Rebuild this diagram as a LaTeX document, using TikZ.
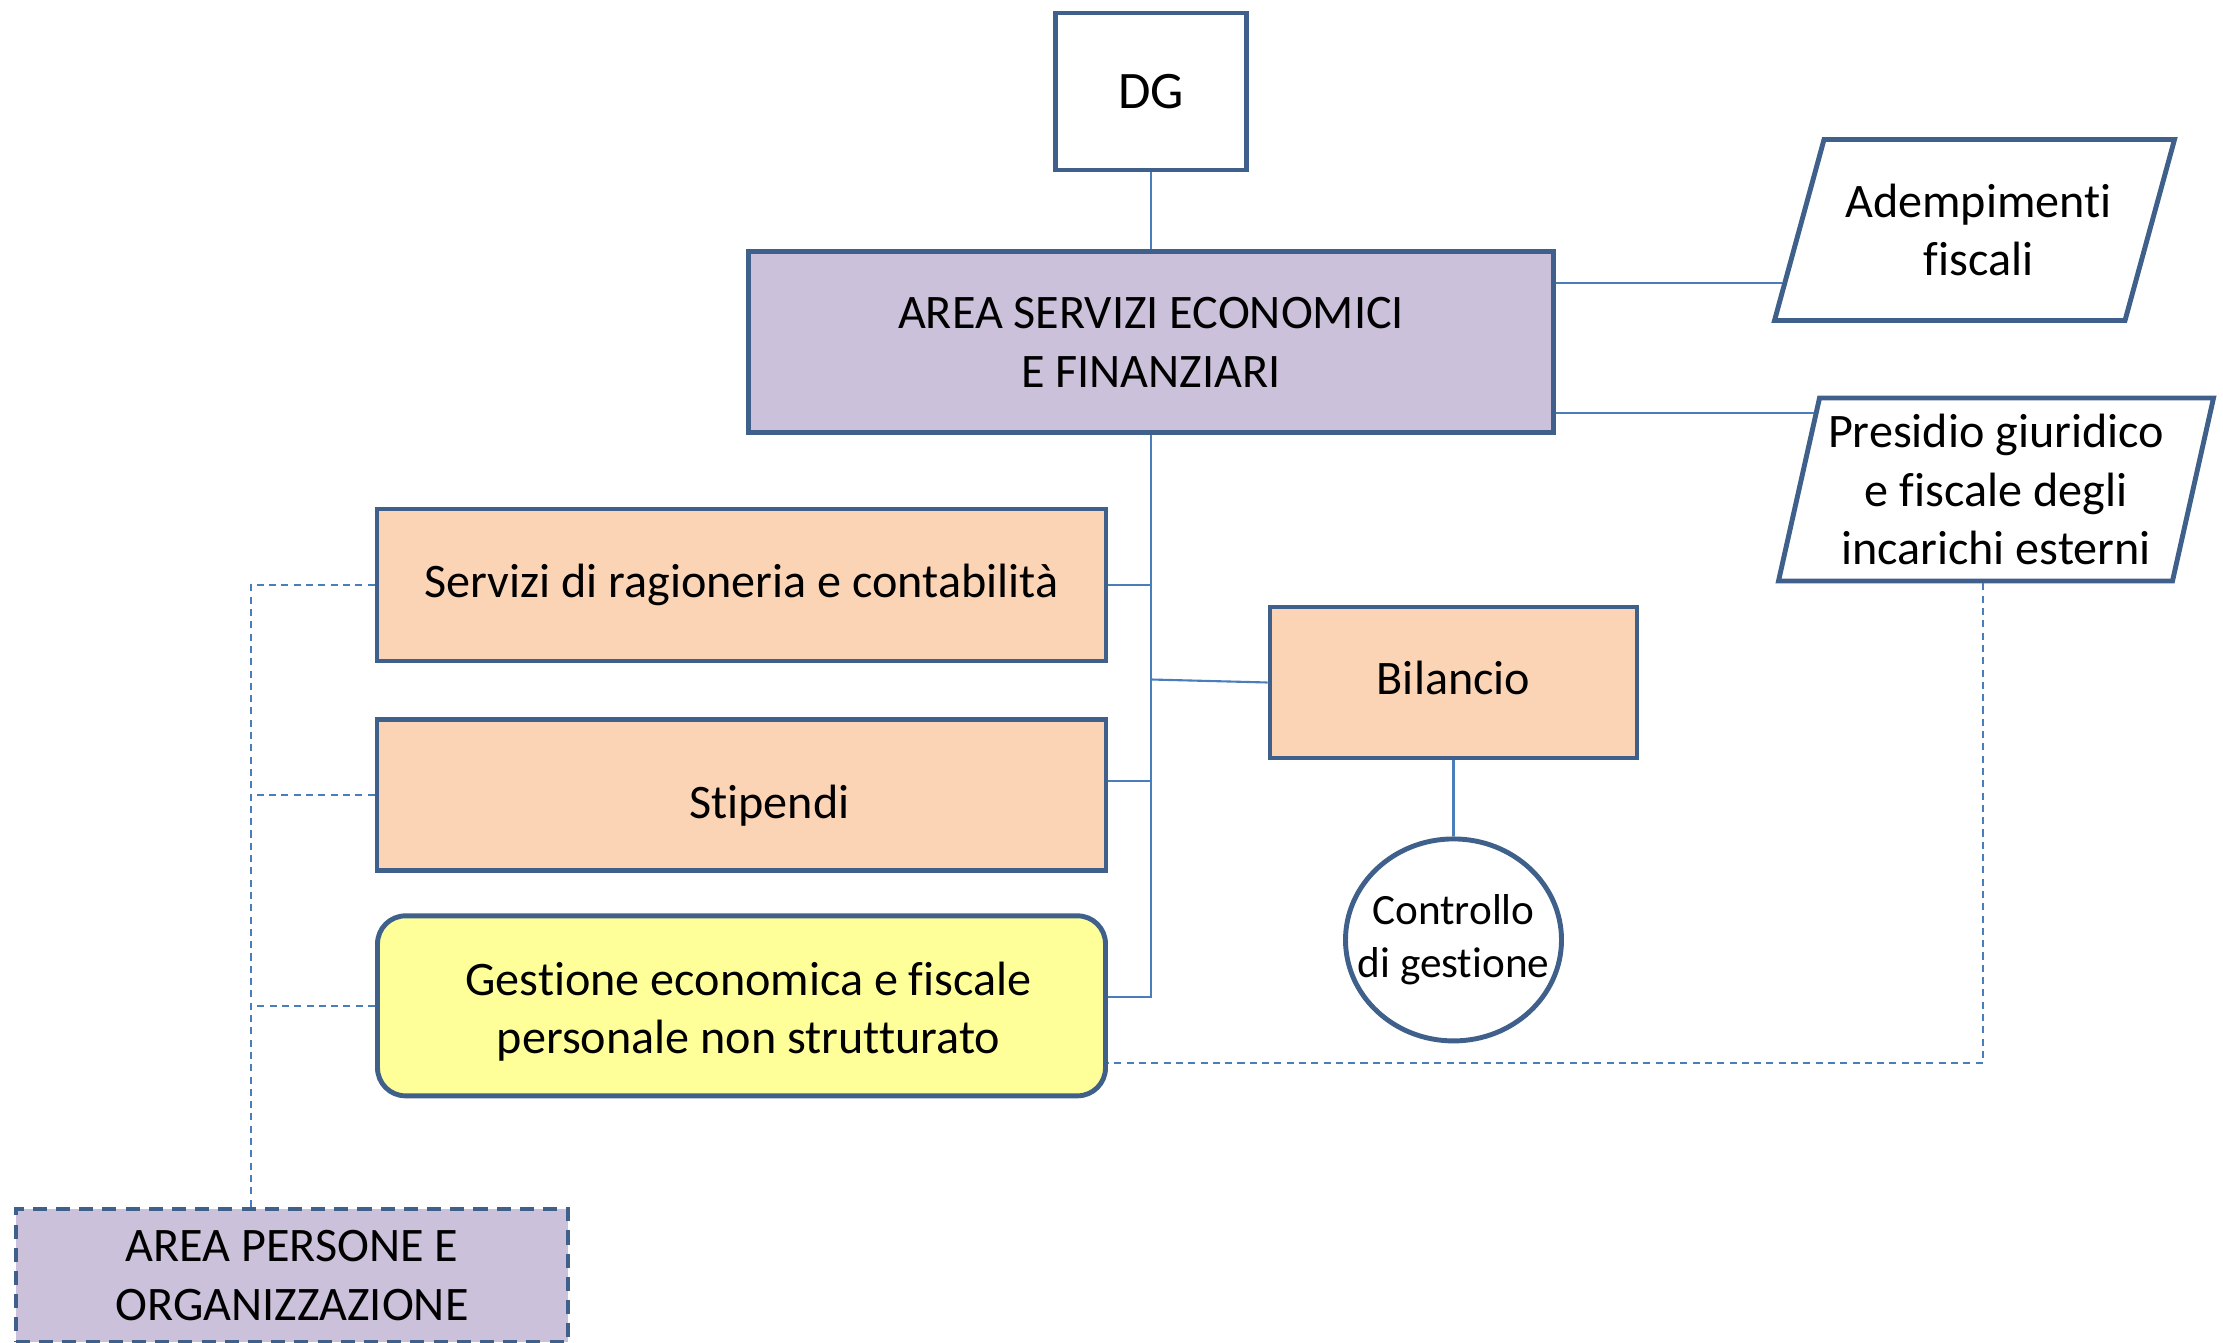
\documentclass[tikz,border=0pt]{standalone}
\usepackage{fontspec}
\setmainfont[Ligatures=NoCommon]{Carlito}
\usetikzlibrary{positioning,shapes.geometric,calc}

\definecolor{bordo}{RGB}{62,96,138}
\definecolor{linea}{RGB}{74,126,187}
\definecolor{lilla}{RGB}{204,193,218}
\definecolor{pesca}{RGB}{250,212,180}
\definecolor{giallo}{RGB}{255,255,153}

\newcommand{\sposta}[2]{\raisebox{#1}[\height][\depth]{#2}}

\begin{document}
\begin{tikzpicture}[font=\fontsize{13.7}{16.6}\selectfont,node distance=0.54cm]

\tikzstyle{every node}=[align=center,text=black]
\tikzstyle{ufficio}=[draw=bordo,line width=1.4pt,rectangle,inner sep=2pt]
\tikzstyle{esterno}=[draw=bordo,line width=1.4pt,trapezium,trapezium stretches body,inner sep=2pt]
\tikzstyle{filo}=[draw=linea,line width=0.6pt]
\tikzstyle{tratto}=[draw=linea,line width=0.6pt,dash pattern=on 2pt off 1.5pt]

\useasboundingbox (0,0) rectangle (22.23,-13.43);

%vertice
\node [ufficio,font=\fontsize{15}{18}\selectfont,minimum width=1.91cm,minimum height=1.57cm] (dg) at (11.51,-0.915) {DG};
\node [ufficio,fill=lilla,minimum width=8.05cm,minimum height=1.81cm] (area) [below=0.77cm of dg] {AREA SERVIZI ECONOMICI\\E FINANZIARI};

%staff
\node [esterno,trapezium left angle=65,trapezium right angle=115,minimum width=4.0cm,minimum height=1.81cm] (adem) at (19.745,-2.30) {\hspace*{0.08cm}Adempimenti\\\hspace*{0.08cm}fiscali};
\node [esterno,trapezium left angle=76,trapezium right angle=104,minimum width=4.35cm,minimum height=1.83cm] (pres) at (19.96,-4.895) {Presidio giuridico\\e fiscale degli\\incarichi esterni};

%uffici
\node [ufficio,fill=pesca,minimum width=7.29cm,minimum height=1.52cm] (servizi) at (7.415,-5.85) {Servizi di ragioneria e contabilità};
\node [ufficio,fill=pesca,minimum width=7.29cm,minimum height=1.51cm] (stip) [below=of servizi] {\hspace*{0.56cm}\sposta{-0.10cm}{Stipendi}};
\node [ufficio,fill=giallo,rounded corners=0.28cm,minimum width=7.28cm,minimum height=1.80cm] (gest) [below=0.40cm of stip] {\hspace*{0.14cm}\sposta{-0.07cm}{\begin{tabular}{@{}c@{}}Gestione economica e fiscale\\personale non strutturato\end{tabular}}};

\node [ufficio,fill=pesca,minimum width=3.67cm,minimum height=1.51cm] (bil) at (14.535,-6.825) {\sposta{0.05cm}{Bilancio}};
\node [ellipse,draw=bordo,line width=1.4pt,inner xsep=-0.2cm,inner ysep=0pt,font=\fontsize{12.3}{15}\selectfont,minimum width=2.16cm,minimum height=2.02cm] (ctrl) [below=0.76cm of bil] {Controllo\\di gestione};

%area esterna
\node [ufficio,fill=lilla,dash pattern=on 4pt off 2.6pt,minimum width=5.52cm,minimum height=1.33cm] (persone) at (2.92,-12.755) {AREA PERSONE E\\ORGANIZZAZIONE};

%linee gerarchiche
\path [filo] (dg) edge (area);
\draw [filo] (area.south) |- ([yshift=0.09cm]gest.east);
\draw [filo] (servizi.east) -- (servizi.east -| area.south);
\draw [filo] ([yshift=0.14cm]stip.east) -- ([yshift=0.14cm]stip.east -| area.south);
\draw [filo] (bil.west) -- ([yshift=0.03cm]bil.west -| area.south);
\draw [filo] (bil.south) -- (ctrl.north);

\coordinate (ademin) at ($(adem.bottom left corner)!0.215!(adem.top left corner)$);
\coordinate (presin) at ($(pres.bottom left corner)!0.907!(pres.top left corner)$);
\draw [filo] (ademin -| area.east) -- (ademin);
\draw [filo] (presin -| area.east) -- (presin);

%linee funzionali
\coordinate (presout) at ($(pres.bottom left corner)!0.52!(pres.bottom right corner)$);
\draw [tratto] (presout) |- ([yshift=-0.57cm]gest.east);
\coordinate (pbus) at ([xshift=-0.41cm]persone.north);
\draw [tratto] (pbus) |- (servizi.west);
\draw [tratto] (stip.west) -- (stip.west -| pbus);
\draw [tratto] (gest.west) -- (gest.west -| pbus);

\end{tikzpicture}
\end{document}
